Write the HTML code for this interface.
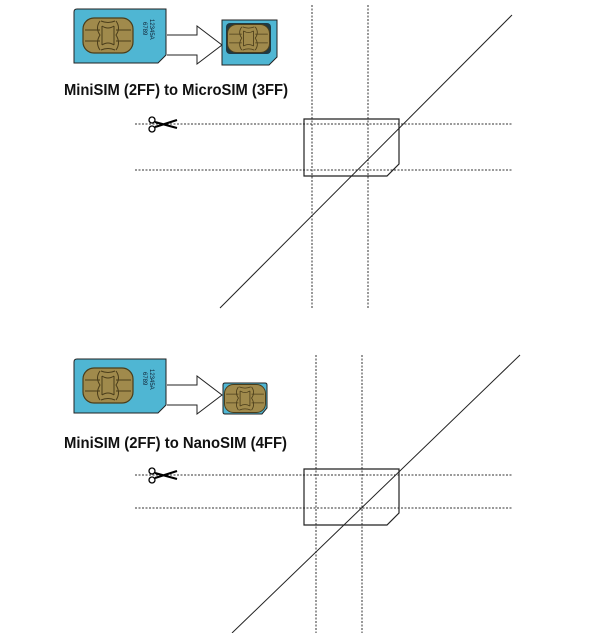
<!DOCTYPE html>
<html><head><style>
html,body{margin:0;padding:0;background:#fff;width:600px;height:633px;overflow:hidden}
svg{display:block}
text{font-family:"Liberation Sans",sans-serif}
</style></head><body>
<svg width="600" height="633" viewBox="0 0 600 633" xmlns="http://www.w3.org/2000/svg">
<defs>
<g id="chip">
<rect x="0" y="0" width="50" height="35" rx="11" fill="#a08a4c" stroke="#4a3d1a" stroke-width="1.2"/>
<path d="M18 3 Q25 6 32 3 M18 32 Q25 29 32 32 M19 8 L19 27 M31 8 L31 27 M19 8 Q25 12 31 8 M19 27 Q25 23 31 27 M2 12 L17 12 M2 23 L17 23 M33 12 L48 12 M33 23 L48 23 M17 3 Q12 10 17 17 Q12 25 17 32 M33 3 Q38 10 33 17 Q38 25 33 32" fill="none" stroke="#4a3d1a" stroke-width="1"/>
</g>
<g id="scis">
<circle cx="-20" cy="-4" r="3" fill="#fff" stroke="#000" stroke-width="1.3"/>
<circle cx="-20" cy="5" r="3" fill="#fff" stroke="#000" stroke-width="1.3"/>
<path d="M-17 -2 L5 4 M-17 3 L5 -4" stroke="#000" stroke-width="2.2"/>
</g>
</defs>

<!-- Top section -->
<path d="M74 12 Q74 9 77 9 L166 9 L166 55 L158 63 L74 63 Z" fill="#4fb6d3" stroke="#222" stroke-width="1"/>
<use href="#chip" x="83" y="18"/>
<text transform="translate(150,19) rotate(90)" font-size="6" fill="#123">12345A</text>
<text transform="translate(143,22) rotate(90)" font-size="6" fill="#123">6789</text>
<path d="M167 35 L197 35 L197 26 L222 45 L197 64 L197 55 L167 55" fill="#fff" stroke="#222" stroke-width="1"/>
<path d="M222 20 L277 20 L277 57 L269 65 L222 65 Z" fill="#4fb6d3" stroke="#222" stroke-width="1"/>
<rect x="226" y="23" width="45" height="31" rx="4" fill="#1f3a44"/>
<g transform="translate(227.5,24.5) scale(0.84,0.8)"><use href="#chip"/></g>
<text x="64" y="95" font-size="15.5" font-weight="bold" fill="#111" textLength="224" lengthAdjust="spacingAndGlyphs">MiniSIM (2FF) to MicroSIM (3FF)</text>

<g stroke="#333" stroke-width="1" stroke-dasharray="2,1.5" fill="none">
<line x1="135" y1="124" x2="512" y2="124"/>
<line x1="135" y1="170" x2="512" y2="170"/>
<line x1="312" y1="5" x2="312" y2="308"/>
<line x1="368" y1="5" x2="368" y2="308"/>
</g>
<use href="#scis" x="172" y="124"/>
<path d="M304 119 L399 119 L399 164 L387 176 L304 176 Z" fill="none" stroke="#222" stroke-width="1.2"/>
<line x1="220" y1="308" x2="512" y2="15" stroke="#222" stroke-width="1"/>

<!-- Bottom section -->
<path d="M74 362 Q74 359 77 359 L166 359 L166 405 L158 413 L74 413 Z" fill="#4fb6d3" stroke="#222" stroke-width="1"/>
<use href="#chip" x="83" y="368"/>
<text transform="translate(150,369) rotate(90)" font-size="6" fill="#123">12345A</text>
<text transform="translate(143,372) rotate(90)" font-size="6" fill="#123">6789</text>
<path d="M167 385 L197 385 L197 376 L222 395 L197 414 L197 405 L167 405" fill="#fff" stroke="#222" stroke-width="1"/>
<path d="M223 385 Q223 383 225 383 L265 383 Q267 383 267 385 L267 408 L262 414 L225 414 Q223 414 223 412 Z" fill="#4fb6d3" stroke="#222" stroke-width="1"/>
<g transform="translate(224.5,384.5) scale(0.82,0.8)"><use href="#chip"/></g>
<text x="64" y="448" font-size="15.5" font-weight="bold" fill="#111" textLength="223" lengthAdjust="spacingAndGlyphs">MiniSIM (2FF) to NanoSIM (4FF)</text>

<g stroke="#333" stroke-width="1" stroke-dasharray="2,1.5" fill="none">
<line x1="135" y1="475" x2="512" y2="475"/>
<line x1="135" y1="508" x2="512" y2="508"/>
<line x1="316" y1="355" x2="316" y2="633"/>
<line x1="362" y1="355" x2="362" y2="633"/>
</g>
<use href="#scis" x="172" y="475"/>
<path d="M304 469 L399 469 L399 513 L387 525 L304 525 Z" fill="none" stroke="#222" stroke-width="1.2"/>
<line x1="232" y1="633" x2="520" y2="355" stroke="#222" stroke-width="1"/>
</svg>
</body></html>
